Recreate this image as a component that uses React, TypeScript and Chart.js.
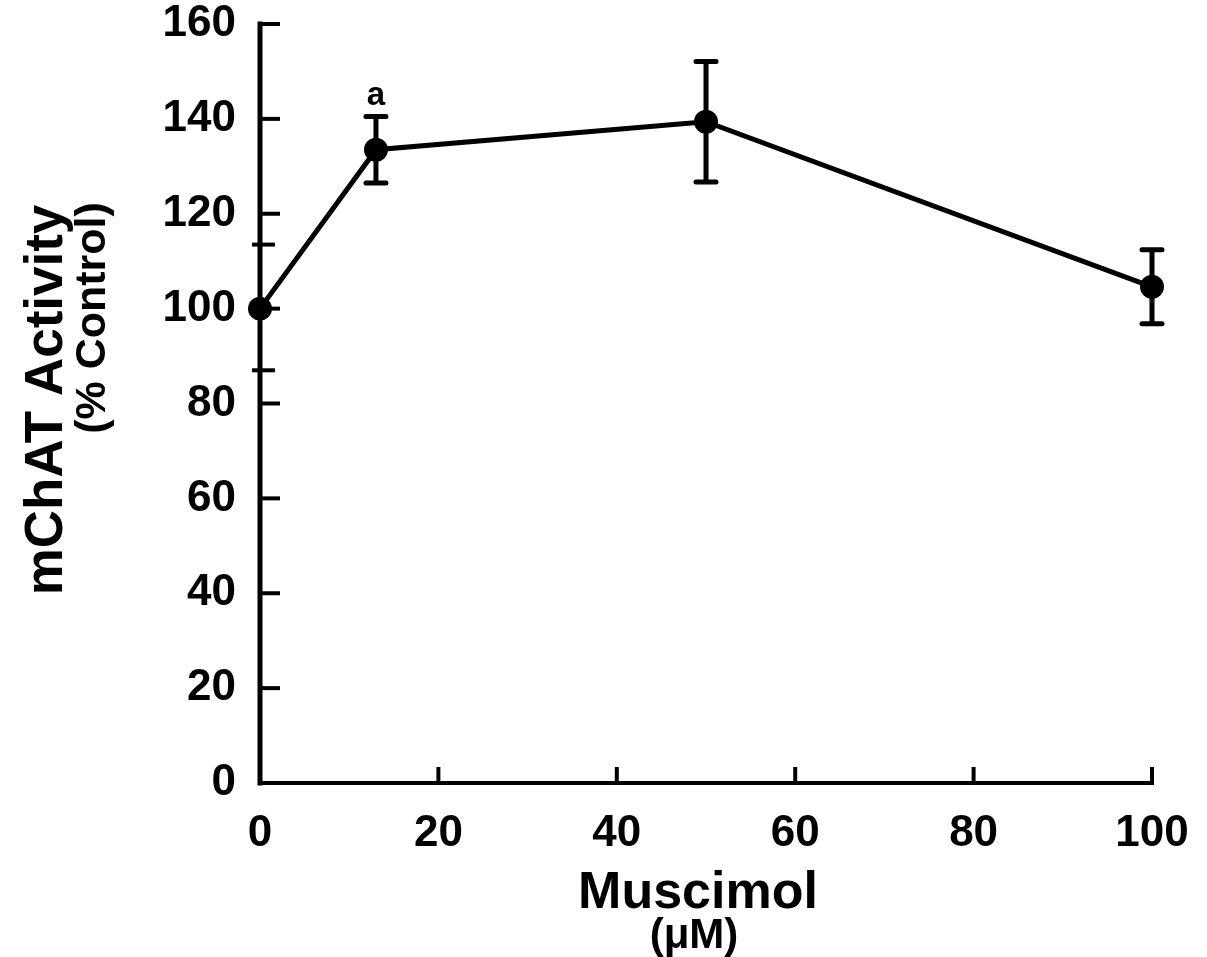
import { useEffect, useRef } from "react";
import { Chart, registerables } from "chart.js";

Chart.register(...registerables);

// ---- data ----
const concentrations = [0, 13, 50, 100]; // Muscimol (µM)
const activity = [100, 133.5, 139.4, 104.6]; // mChAT activity (% control)
const sem = [0, 7, 12.7, 7.8];
const significance = ["", "a", "", ""];
const xTicks = [0, 20, 40, 60, 80, 100];
const yTicks = [0, 20, 40, 60, 80, 100, 120, 140, 160];
const yMarks = [87, 113.5]; // small crossing marks on the y axis

const FAMILY = '"Liberation Sans", Arial, Helvetica, sans-serif';

const axesPlugin = {
  id: "axesPlugin",
  beforeDatasetsDraw(chart: any) {
    const { ctx } = chart;
    const xs = chart.scales.x;
    const ys = chart.scales.y;
    const x0 = xs.getPixelForValue(0);
    const x1 = xs.getPixelForValue(100);
    const y0 = ys.getPixelForValue(0);
    const y1 = ys.getPixelForValue(160);
    ctx.save();
    ctx.strokeStyle = "#000";
    ctx.lineCap = "square";
    // y axis
    ctx.lineWidth = 5;
    ctx.beginPath();
    ctx.moveTo(x0, y1);
    ctx.lineTo(x0, y0);
    ctx.stroke();
    // x axis
    ctx.lineWidth = 4;
    ctx.beginPath();
    ctx.moveTo(x0, y0);
    ctx.lineTo(x1, y0);
    ctx.stroke();
    // y ticks (inward)
    ctx.lineWidth = 4;
    ctx.lineCap = "butt";
    yTicks.forEach((v) => {
      if (v === 0) return;
      const y = ys.getPixelForValue(v);
      ctx.beginPath();
      ctx.moveTo(x0, y);
      ctx.lineTo(x0 + 20, y);
      ctx.stroke();
    });
    yMarks.forEach((v) => {
      const y = ys.getPixelForValue(v);
      ctx.beginPath();
      ctx.moveTo(x0 - 8, y);
      ctx.lineTo(x0 + 15, y);
      ctx.stroke();
    });
    // x ticks (inward)
    xTicks.forEach((v) => {
      if (v === 0) return;
      const x = xs.getPixelForValue(v);
      ctx.beginPath();
      ctx.moveTo(x, y0);
      ctx.lineTo(x, y0 - 16);
      ctx.stroke();
    });
    ctx.restore();
  },
};

const errorPlugin = {
  id: "errorPlugin",
  beforeDatasetsDraw(chart: any) {
    const { ctx } = chart;
    const xs = chart.scales.x;
    const ys = chart.scales.y;
    ctx.save();
    ctx.strokeStyle = "#000";
    ctx.lineWidth = 5;
    ctx.lineCap = "round";
    concentrations.forEach((c, i) => {
      if (!sem[i]) return;
      const x = xs.getPixelForValue(c);
      const yt = ys.getPixelForValue(activity[i] + sem[i]);
      const yb = ys.getPixelForValue(activity[i] - sem[i]);
      ctx.beginPath();
      ctx.moveTo(x, yt);
      ctx.lineTo(x, yb);
      ctx.moveTo(x - 10, yt);
      ctx.lineTo(x + 10, yt);
      ctx.moveTo(x - 10, yb);
      ctx.lineTo(x + 10, yb);
      ctx.stroke();
    });
    ctx.restore();
  },
  afterDatasetsDraw(chart: any) {
    const { ctx } = chart;
    const xs = chart.scales.x;
    const ys = chart.scales.y;
    ctx.save();
    ctx.fillStyle = "#000";
    ctx.font = `bold 33px ${FAMILY}`;
    ctx.textAlign = "center";
    ctx.textBaseline = "alphabetic";
    concentrations.forEach((c, i) => {
      if (!significance[i]) return;
      const x = xs.getPixelForValue(c);
      const yt = ys.getPixelForValue(activity[i] + sem[i]);
      ctx.fillText(significance[i], x, yt - 12);
    });
    ctx.restore();
  },
};

const titlesPlugin = {
  id: "titlesPlugin",
  afterDraw(chart: any) {
    const { ctx } = chart;
    ctx.save();
    ctx.fillStyle = "#000";
    ctx.textAlign = "center";
    ctx.textBaseline = "middle";
    // y title
    ctx.save();
    ctx.translate(47, 400);
    ctx.rotate(-Math.PI / 2);
    ctx.font = `bold 53px ${FAMILY}`;
    ctx.fillText("mChAT Activity", 0, 0);
    ctx.restore();
    ctx.save();
    ctx.translate(93, 318);
    ctx.rotate(-Math.PI / 2);
    ctx.font = `bold 43px ${FAMILY}`;
    ctx.fillText("(% Control)", 0, 0);
    ctx.restore();
    // x title
    ctx.textBaseline = "alphabetic";
    ctx.font = `bold 52px ${FAMILY}`;
    ctx.fillText("Muscimol", 698, 908);
    ctx.font = `bold 42px ${FAMILY}`;
    ctx.fillText("(\u03BCM)", 694, 948);
    ctx.restore();
  },
};

export default function App() {
  const ref = useRef<HTMLCanvasElement>(null);
  useEffect(() => {
    const tickFont = { family: FAMILY, size: 44, weight: "bold" as const };
    const chart = new Chart(ref.current!, {
      type: "line",
      data: {
        datasets: [
          {
            data: concentrations.map((x, i) => ({ x, y: activity[i] })),
            borderColor: "#000",
            borderWidth: 5,
            pointRadius: 12,
            pointBackgroundColor: "#000",
            pointBorderColor: "#000",
            pointBorderWidth: 0,
            tension: 0,
            clip: false as any,
          },
        ],
      },
      options: {
        responsive: false,
        animation: false,
        layout: { autoPadding: false, padding: { top: 24, right: 55, left: 0, bottom: 0 } },
        plugins: { legend: { display: false }, tooltip: { enabled: false } },
        scales: {
          x: {
            type: "linear",
            min: 0,
            max: 100,
            afterBuildTicks: (s: any) => {
              s.ticks = xTicks.map((v) => ({ value: v }));
            },
            grid: { display: false, drawTicks: false, tickLength: 0 },
            border: { display: false },
            ticks: { font: tickFont, color: "#000", padding: 24, maxRotation: 0, autoSkip: false },
            afterFit: (s: any) => {
              s.height = 174;
              s.paddingLeft = 0;
              s.paddingRight = 0;
              s.paddingTop = 0;
              s.paddingBottom = 0;
            },
          },
          y: {
            type: "linear",
            min: 0,
            max: 160,
            afterBuildTicks: (s: any) => {
              s.ticks = yTicks.map((v) => ({ value: v }));
            },
            grid: { display: false, drawTicks: false, tickLength: 0 },
            border: { display: false },
            ticks: { font: tickFont, color: "#000", padding: 24, autoSkip: false },
            afterFit: (s: any) => {
              s.width = 260;
              s.paddingLeft = 0;
              s.paddingRight = 0;
              s.paddingTop = 0;
              s.paddingBottom = 0;
            },
          },
        },
      },
      plugins: [axesPlugin, errorPlugin, titlesPlugin],
    });
    return () => chart.destroy();
  }, []);
  return (
    <div style={{ position: "fixed", left: 0, top: 0, width: 1207, height: 957, background: "#fff" }}>
      <canvas ref={ref} width={1207} height={957} style={{ width: 1207, height: 957 }} />
    </div>
  );
}
